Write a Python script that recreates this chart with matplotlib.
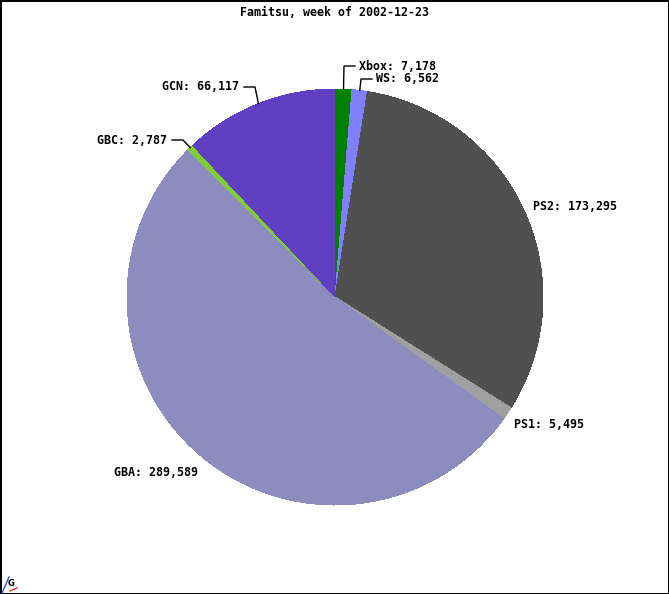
import numpy as np
import matplotlib
matplotlib.use("Agg")
import matplotlib.pyplot as plt

# data, clockwise from 12 o'clock
platforms = ["Xbox", "WS", "PS2", "PS1", "GBA", "GBC", "GCN"]
sales = [7178, 6562, 173295, 5495, 289589, 2787, 66117]
colors = ["#008000", "#8080ff", "#505050", "#a0a0a0", "#8c8cbe", "#7fd02f", "#6040c0"]
title = "Famitsu, week of 2002-12-23"

W, H = 669, 594
cx, cy, r = 335, 297, 208  # pixel coords, y from top

# label placement in pixels (x, y, ha) and optional elbow (x, y) for leader line
label_pos = {
    "Xbox": (359, 66, "left", (344, 66)),
    "WS": (376, 79, "left", (361, 79)),
    "PS2": (533, 207, "left", None),
    "PS1": (514, 425, "left", None),
    "GBA": (198, 472, "right", None),
    "GBC": (167, 140, "right", (183, 140)),
    "GCN": (239, 87, "right", (255, 87)),
}

fig = plt.figure(figsize=(W / 100, H / 100), dpi=100, facecolor="white",
                 edgecolor="black", linewidth=1)
ax = fig.add_axes([0, 0, 1, 1])

def py(y):
    return H - y

wedges, _ = ax.pie(sales, colors=colors, startangle=90, counterclock=False,
                   center=(cx, py(cy)), radius=r,
                   wedgeprops=dict(linewidth=0, antialiased=False), frame=True)
ax.set_xlim(0, W)
ax.set_ylim(0, H)
ax.set_aspect("equal")
ax.axis("off")

font = dict(family="DejaVu Sans Mono", fontsize=8.4, fontweight="bold")

for w, name, val in zip(wedges, platforms, sales):
    mid = np.deg2rad((w.theta1 + w.theta2) / 2)
    ex, ey = cx + r * np.cos(mid), cy - r * np.sin(mid)
    lx, ly, ha, elbow = label_pos[name]
    if elbow is not None:
        bx, by = elbow
        ax.plot([ex, bx, lx + (-4 if ha == "left" else 5)],
                [py(ey), py(by), py(by)], color="black", lw=1)
    ax.text(lx, py(ly), f"{name}: {val:,}", ha=ha, va="center", **font)

ax.text(cx, py(13), title, ha="center", va="center", **font)

# small logo in the corner
ax.plot([2, 9], [py(593), py(577)], color="#3050e0", lw=1)
ax.plot([10, 17], [py(591), py(588)], color="#e03030", lw=1)
ax.text(11, py(584), "G", ha="center", va="center", fontsize=6,
        fontweight="bold", family="DejaVu Sans")

fig.savefig("out.png", dpi=100)
